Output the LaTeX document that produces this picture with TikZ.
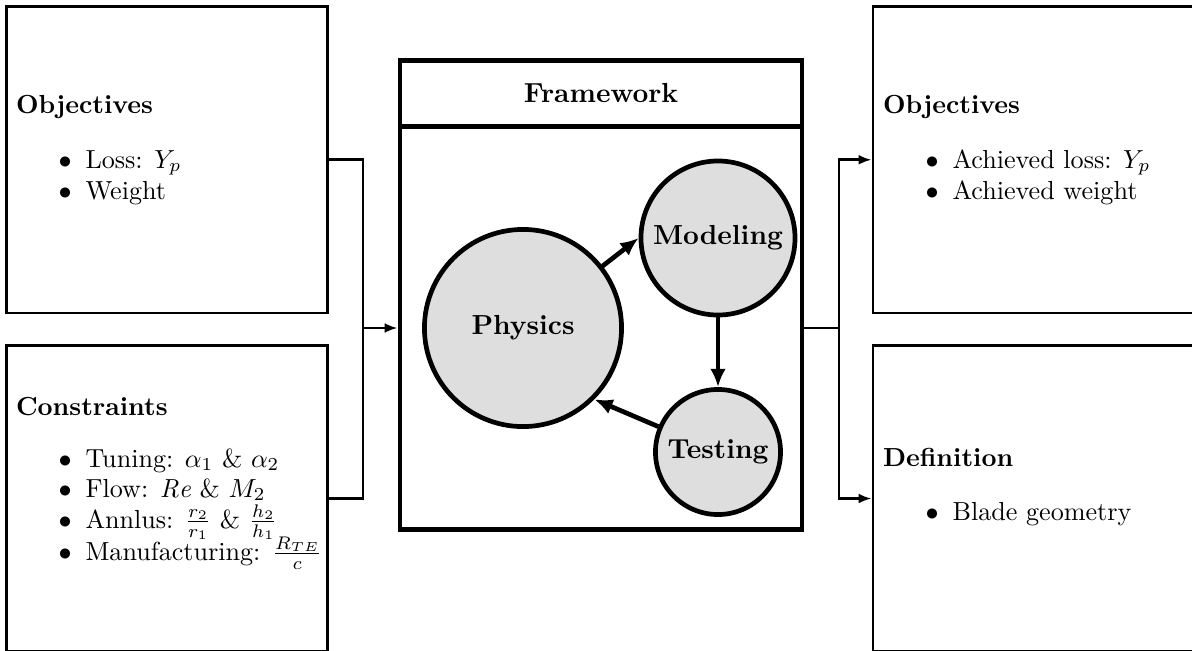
\documentclass[tikz,border=0pt]{standalone}
\usepackage{fontspec}
\usetikzlibrary{arrows.meta}
\begin{document}
\begin{tikzpicture}[x=0.383pt,y=-0.383pt,
  box/.style={draw, rectangle, line width=1.1pt, inner sep=0pt,
    minimum width=122.9pt, minimum height=117.4pt},
  fwpart/.style={draw, rectangle, line width=1.8pt, inner sep=0pt,
    minimum width=154pt},
  big/.style={font=\fontsize{10.55}{12.7}\selectfont\bfseries},
  stage/.style={draw, circle, line width=1.8pt, fill=black!13,
    inner sep=0pt, big},
  txt/.style={anchor=base west, inner sep=0pt},
  link/.style={line width=1.1pt, -{Latex[length=5pt,width=3.8pt]}},
  wire/.style={line width=1.1pt},
  cycle/.style={line width=1.8pt, -{Latex[length=7pt,width=6pt]}}]

\useasboundingbox (0,0) rectangle (1192,650);

% side boxes
\node[box] (objL) at (167,159.75) {};
\node[box] (conL) at (167,498.5) {};
\node[box] (objR) at (1033.5,159.75) {};
\node[box] (defR) at (1033.5,498.5) {};

% framework container
\node[fwpart, minimum height=25.3pt] (head) at (601,93.5) {};
\node[fwpart, minimum height=154.3pt] (body) at (601,328) {};
\node[big] (title) at (601,93) {Framework};

% stages
\node[stage, minimum size=75.5pt] (physics) at (523,328) {Physics};
\node[stage, minimum size=59pt] (modeling) at (718,238) {Modeling};
\node[stage, minimum size=47.9pt] (testing) at (718,452) {Testing};

\draw[cycle] (physics) -- (modeling.west);
\draw[cycle] (modeling) -- (testing);
\draw[cycle] (testing) -- (physics.south east);

% inputs
\node[txt] (oLh) at (15.5,113) {\textbf{Objectives}};
\node[txt] (oLb1) at (58,168) {$\bullet$};
\node[txt] (oLi1) at (85,168) {Loss: $Y_p$};
\node[txt] (oLb2) at (58,199) {$\bullet$};
\node[txt] (oLi2) at (85,199) {Weight};

\node[txt] (cLh) at (15.5,415) {\textbf{Constraints}};
\node[txt] (cLb1) at (58,467) {$\bullet$};
\node[txt] (cLi1) at (85,467) {Tuning: $\alpha_1$ \& $\alpha_2$};
\node[txt] (cLb2) at (58,497) {$\bullet$};
\node[txt] (cLi2) at (85,497) {Flow: $\mathit{Re}$ \& $M_2$};
\node[txt] (cLb3) at (58,528) {$\bullet$};
\node[txt] (cLi3) at (85,528) {Annlus: $\frac{r_2}{r_1}$ \& $\frac{h_2}{h_1}$};
\node[txt] (cLb4) at (58,560) {$\bullet$};
\node[txt] (cLi4) at (85,560) {Manufacturing: $\frac{R_{TE}}{c}$};

% outputs
\node[txt] (oRh) at (882.5,113) {\textbf{Objectives}};
\node[txt] (oRb1) at (925,168) {$\bullet$};
\node[txt] (oRi1) at (952,168) {Achieved loss: $Y_p$};
\node[txt] (oRb2) at (925,199) {$\bullet$};
\node[txt] (oRi2) at (952,199) {Achieved weight};

\node[txt] (dRh) at (882.5,466) {\textbf{Definition}};
\node[txt] (dRb1) at (925,520) {$\bullet$};
\node[txt] (dRi1) at (952,520) {Blade geometry};

% connectors
\coordinate (jL) at (363,328);
\coordinate (jR) at (839,328);
\draw[wire] (objL.east) -| (jL);
\draw[wire] (conL.east) -| (jL);
\draw[link] (jL) -- (body.west);
\draw[wire] (body.east) -- (jR);
\draw[link] (jR) |- (objR.west);
\draw[link] (jR) |- (defR.west);
\end{tikzpicture}
\end{document}
